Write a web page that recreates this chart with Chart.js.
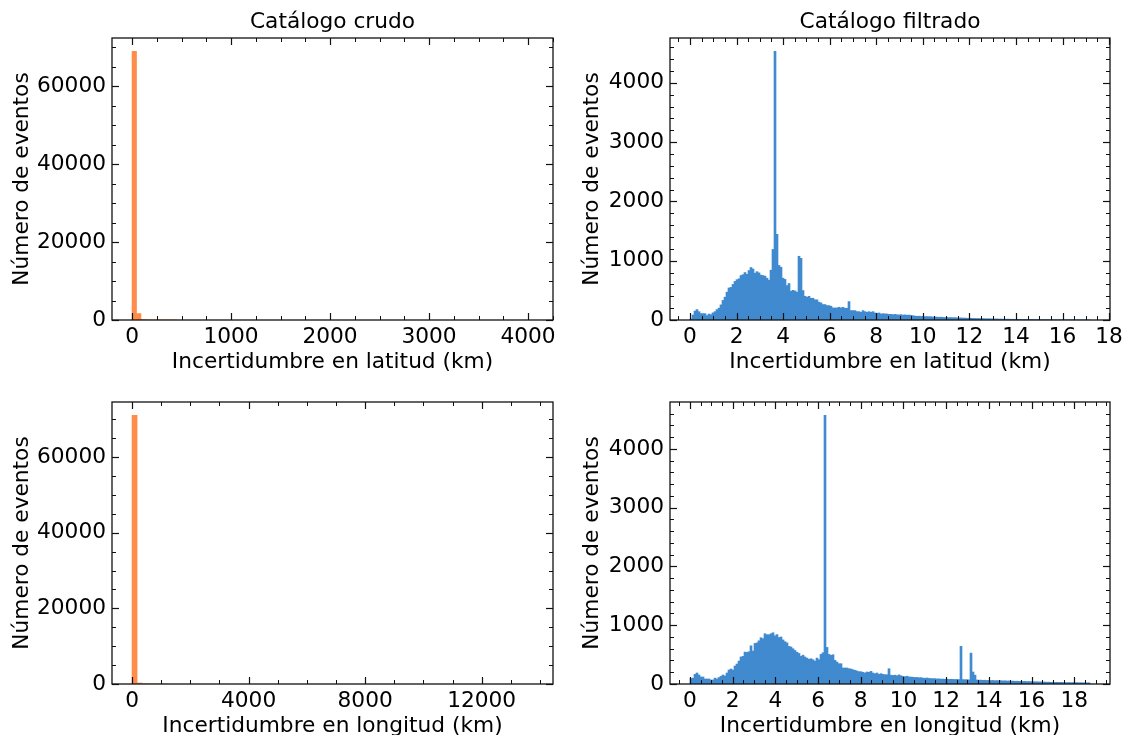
<!DOCTYPE html>
<html>
<head>
<meta charset="utf-8">
<title>Incertidumbre en latitud y longitud</title>
<script src="https://cdn.jsdelivr.net/npm/chart.js@4.4.1/dist/chart.umd.min.js"></script>
<style>
  html, body { margin: 0; padding: 0; background: #fff; overflow: hidden; }
  body { width: 1129px; height: 735px; position: relative; }
  canvas { position: absolute; }
</style>
</head>
<body>
<canvas id="lat-crude" width="565" height="380" style="left:0;top:0"></canvas>
<canvas id="lat-filt" width="559" height="380" style="left:570px;top:0"></canvas>
<canvas id="lon-crude" width="565" height="380" style="left:0;top:364px"></canvas>
<canvas id="lon-filt" width="559" height="380" style="left:570px;top:364px"></canvas>
<script>
// ---- data (histogram counts per bin) ----

// raw catalogue, latitude uncertainty (km): 90 bins of 45 km, only the first ones are non-empty
const latCrudeBinWidth = 45;
const latCrudeBinCount = 90;
const latCrudeCounts = [68900, 1650, 120, 40, 15, 8, 5, 3, 2, 1];

// raw catalogue, longitude uncertainty (km): 80 bins of 172 km
const lonCrudeBinWidth = 172;
const lonCrudeBinCount = 80;
const lonCrudeCounts = [71050, 250, 40, 10, 4, 2, 1];

// filtered catalogue, latitude uncertainty (km): 200 bins of 0.0859 km
const latFiltBinWidth = 0.0859;
const latFiltCounts = [
  20, 85, 150, 175, 140, 107, 107, 107, 73, 100,
  90, 120, 140, 175, 200, 255, 330, 385, 470, 540,
  550, 600, 650, 680, 695, 750, 765, 800, 770, 835,
  885, 860, 790, 815, 795, 757, 750, 740, 705, 672,
  840, 1190, 4530, 1445, 920, 890, 705, 685, 580, 615,
  485, 500, 490, 470, 1075, 1040, 497, 400, 385, 400,
  367, 367, 340, 340, 300, 288, 260, 260, 243, 243,
  232, 203, 203, 203, 215, 203, 215, 198, 198, 310,
  158, 158, 158, 141, 141, 130, 158, 141, 130, 141,
  130, 141, 119, 113, 119, 102, 107, 102, 102, 96,
  96, 90, 95, 88, 85, 90, 82, 86, 80, 84,
  78, 72, 66, 62, 64, 60, 62, 56, 58, 55,
  56, 50, 52, 48, 46, 48, 44, 42, 44, 40,
  40, 38, 40, 36, 34, 35, 32, 33, 30, 28,
  29, 27, 26, 24, 26, 22, 24, 21, 20, 22,
  18, 19, 17, 18, 15, 16, 14, 15, 13, 14,
  12, 13, 11, 12, 10, 11, 9, 10, 9, 8,
  8, 7, 7, 6, 6, 5, 5, 5, 4, 4,
  4, 3, 3, 3, 3, 2, 2, 2, 2, 2,
  2, 1, 1, 1, 1, 1, 1, 1, 1, 1
];

// filtered catalogue, longitude uncertainty (km): 200 bins of 0.0937 km
const lonFiltBinWidth = 0.0937;
const lonFiltCounts = [
  90, 100, 164, 187, 153, 119, 119, 85, 85, 85,
  68, 68, 100, 85, 110, 130, 153, 136, 187, 238,
  255, 238, 306, 340, 390, 460, 470, 543, 538, 549,
  650, 560, 690, 700, 735, 787, 770, 855, 838, 838,
  855, 872, 820, 840, 790, 800, 750, 720, 700, 640,
  630, 600, 570, 540, 520, 470, 490, 460, 440, 420,
  430, 413, 390, 441, 413, 504, 532, 4570, 622, 504,
  487, 498, 402, 374, 345, 345, 272, 272, 272, 260,
  255, 243, 232, 221, 209, 209, 198, 187, 204, 198,
  215, 187, 175, 187, 164, 175, 164, 158, 158, 260,
  150, 145, 150, 140, 155, 140, 130, 125, 132, 120,
  118, 115, 110, 112, 105, 108, 100, 98, 102, 95,
  92, 90, 92, 85, 88, 82, 84, 80, 82, 78,
  80, 78, 76, 78, 75, 640, 75, 72, 74, 70,
  526, 204, 150, 68, 65, 66, 62, 64, 60, 62,
  58, 60, 56, 58, 55, 57, 52, 55, 50, 52,
  48, 50, 46, 48, 44, 46, 42, 44, 40, 42,
  38, 40, 36, 38, 34, 36, 32, 34, 30, 32,
  28, 30, 27, 29, 26, 28, 24, 26, 23, 25,
  22, 24, 21, 23, 20, 22, 19, 21, 18, 20
];

// tick labels
const latCrudeTicks = [0, 1000, 2000, 3000, 4000];
const lonCrudeTicks = [0, 4000, 8000, 12000];
const crudeCountTicks = [0, 20000, 40000, 60000];
const filtKmTicks = [0, 2, 4, 6, 8, 10, 12, 14, 16, 18];
const filtCountTicks = [0, 1000, 2000, 3000, 4000];

// ---- styling ----
const fontSize = 21.7;
const fontFamily = "'DejaVu Sans', sans-serif";
Chart.defaults.font.family = fontFamily;
Chart.defaults.font.size = fontSize;
Chart.defaults.color = "#000";

const crudeColor = "rgb(255, 140, 72)";
const filtColor = "rgb(64, 138, 207)";

// frame + inward major/minor ticks on all four sides, and the panel title
const frameTicks = {
  id: "frameTicks",
  afterDatasetsDraw(chart, args, opts) {
    const { ctx, chartArea: a } = chart;
    const xs = chart.scales.x;
    const ys = chart.scales.y;

    ctx.save();
    ctx.strokeStyle = "#111";

    function line(x1, y1, x2, y2, w) {
      ctx.lineWidth = w;
      ctx.beginPath();
      ctx.moveTo(x1, y1);
      ctx.lineTo(x2, y2);
      ctx.stroke();
    }

    function isMajor(list, v) {
      return list.some((m) => Math.abs(m - v) < 1e-6 * Math.max(1, Math.abs(m)));
    }

    const xMajor = xs.ticks.map((t) => t.value);
    const yMajor = ys.ticks.map((t) => t.value);

    // x ticks
    const xStart = Math.ceil(xs.min / opts.xMinor);
    for (let k = xStart; k * opts.xMinor <= xs.max; k++) {
      const v = k * opts.xMinor;
      const major = isMajor(xMajor, v);
      const len = major ? 7 : 4;
      const px = Math.round(xs.getPixelForValue(v)) + 0.5;
      line(px, a.bottom, px, a.bottom - len, major ? 1.2 : 1);
      line(px, a.top, px, a.top + len, major ? 1.2 : 1);
    }

    // y ticks
    const yStart = Math.ceil(ys.min / opts.yMinor);
    for (let k = yStart; k * opts.yMinor <= ys.max; k++) {
      const v = k * opts.yMinor;
      const major = isMajor(yMajor, v);
      const len = major ? 7 : 4;
      const py = Math.round(ys.getPixelForValue(v)) + 0.5;
      line(a.left, py, a.left + len, py, major ? 1.2 : 1);
      line(a.right, py, a.right - len, py, major ? 1.2 : 1);
    }

    ctx.lineWidth = 1.3;
    ctx.strokeRect(a.left, a.top, a.right - a.left, a.bottom - a.top);

    if (opts.title) {
      ctx.fillStyle = "#000";
      ctx.font = fontSize + "px " + fontFamily;
      ctx.textAlign = "center";
      ctx.textBaseline = "middle";
      ctx.fillText(opts.title, (a.left + a.right) / 2, 22);
    }
    ctx.restore();
  },
};

function makePanel(id, cfg) {
  const nBins = cfg.binCount || cfg.counts.length;
  const span = nBins * cfg.binWidth;
  const xMin = -0.05 * span;
  const xMax = span * 1.05;
  const yMax = Math.max(...cfg.counts) * 1.05;

  const points = cfg.counts.map((c, i) => ({ x: (i + 0.5) * cfg.binWidth, y: c }));

  return new Chart(document.getElementById(id), {
    type: "bar",
    data: {
      datasets: [
        {
          data: points,
          backgroundColor: cfg.color,
          borderWidth: 0,
          barPercentage: 1,
          categoryPercentage: 1,
        },
      ],
    },
    options: {
      responsive: false,
      animation: false,
      layout: {
        padding: { left: 0, right: cfg.padRight, top: 38, bottom: 0 },
      },
      plugins: {
        legend: { display: false },
        tooltip: { enabled: false },
        frameTicks: { xMinor: cfg.xMinor, yMinor: cfg.yMinor, title: cfg.title },
      },
      scales: {
        x: {
          type: "linear",
          position: "bottom",
          min: xMin,
          max: xMax,
          offset: false,
          grid: { display: false, drawTicks: false },
          border: { display: false },
          afterBuildTicks: (s) => {
            s.ticks = cfg.xTicks.map((v) => ({ value: v }));
          },
          afterFit: (s) => {
            s.height = 60;
          },
          ticks: {
            autoSkip: false,
            maxRotation: 0,
            padding: 4.5,
            callback: (v) => String(v),
          },
          title: {
            display: true,
            text: cfg.xTitle,
            padding: { top: 0, bottom: 5 },
          },
        },
        y: {
          type: "linear",
          position: "left",
          min: 0,
          max: yMax,
          grid: { display: false, drawTicks: false },
          border: { display: false },
          afterBuildTicks: (s) => {
            s.ticks = cfg.yTicks.map((v) => ({ value: v }));
          },
          afterFit: (s) => {
            s.width = cfg.yAxisWidth;
          },
          ticks: {
            autoSkip: false,
            padding: 6,
            callback: (v) => String(v),
          },
          title: {
            display: true,
            text: "Número de eventos",
            padding: { top: 9, bottom: 0 },
          },
        },
      },
    },
    plugins: [frameTicks],
  });
}

makePanel("lat-crude", {
  title: "Catálogo crudo",
  counts: latCrudeCounts,
  binWidth: latCrudeBinWidth,
  binCount: latCrudeBinCount,
  color: crudeColor,
  xTicks: latCrudeTicks,
  yTicks: crudeCountTicks,
  xMinor: 250,
  yMinor: 5000,
  xTitle: "Incertidumbre en latitud (km)",
  yAxisWidth: 112,
  padRight: 12,
});

makePanel("lat-filt", {
  title: "Catálogo filtrado",
  counts: latFiltCounts,
  binWidth: latFiltBinWidth,
  color: filtColor,
  xTicks: filtKmTicks,
  yTicks: filtCountTicks,
  xMinor: 0.5,
  yMinor: 200,
  xTitle: "Incertidumbre en latitud (km)",
  yAxisWidth: 100,
  padRight: 19,
});

makePanel("lon-crude", {
  counts: lonCrudeCounts,
  binWidth: lonCrudeBinWidth,
  binCount: lonCrudeBinCount,
  color: crudeColor,
  xTicks: lonCrudeTicks,
  yTicks: crudeCountTicks,
  xMinor: 1000,
  yMinor: 5000,
  xTitle: "Incertidumbre en longitud (km)",
  yAxisWidth: 112,
  padRight: 12,
});

makePanel("lon-filt", {
  counts: lonFiltCounts,
  binWidth: lonFiltBinWidth,
  color: filtColor,
  xTicks: filtKmTicks,
  yTicks: filtCountTicks,
  xMinor: 0.5,
  yMinor: 200,
  xTitle: "Incertidumbre en longitud (km)",
  yAxisWidth: 100,
  padRight: 19,
});
</script>
</body>
</html>
